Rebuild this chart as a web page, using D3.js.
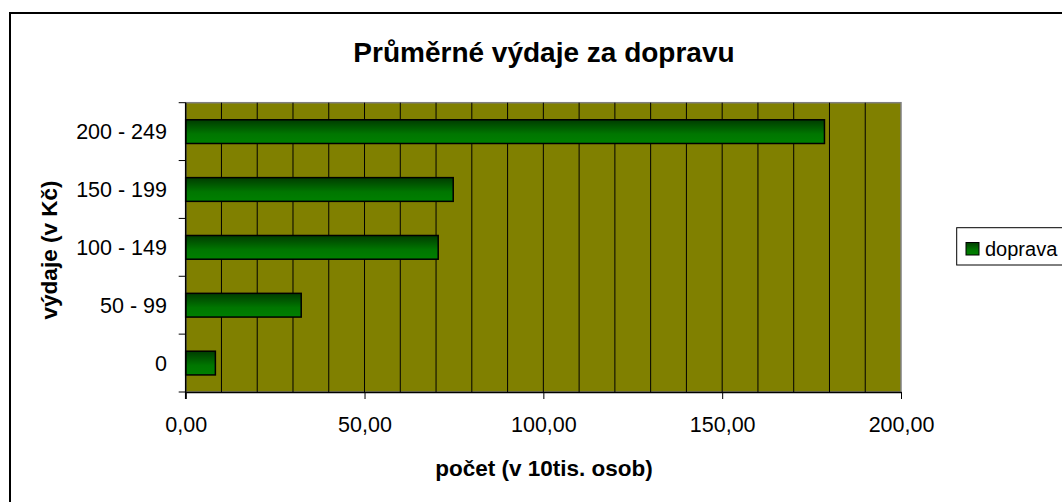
<!DOCTYPE html>
<html>
<head>
<meta charset="utf-8">
<script src="https://cdn.jsdelivr.net/npm/d3@7"></script>
<style>
  body { margin: 0; background: #fff; }
  svg { display: block; font-family: "Liberation Sans", Arial, sans-serif; }
</style>
</head>
<body>
<svg id="chart"></svg>
<script>
// data
var categories = ["0", "50 - 99", "100 - 149", "150 - 199", "200 - 249"];
var values = [8.3, 32.3, 70.6, 74.8, 178.6];
var seriesName = "doprava";
var xTicks = [0, 50, 100, 150, 200];
var gridStep = [0, 10, 20, 30, 40, 50, 60, 70, 80, 90, 100, 110, 120, 130, 140, 150, 160, 170, 180, 190, 200];

var W = 1062, H = 502;
var plot = {left: 185.7, top: 102.7, right: 901, bottom: 392};

var svg = d3.select("#chart").attr("width", W).attr("height", H);

var cz = d3.formatLocale({decimal: ",", thousands: " ", grouping: [3], currency: ["", " Kč"]});
var fmt = cz.format(".2f");

// gradient for the bars
var defs = svg.append("defs");
var grad = defs.append("linearGradient").attr("id", "barGrad")
  .attr("x1", 0).attr("y1", 0).attr("x2", 0).attr("y2", 1);
grad.append("stop").attr("offset", "0%").attr("stop-color", "#003c00");
grad.append("stop").attr("offset", "60%").attr("stop-color", "#007600");
grad.append("stop").attr("offset", "100%").attr("stop-color", "#008000");

// outer chart frame (cut off at right and bottom)
svg.append("rect")
  .attr("x", 10).attr("y", 13)
  .attr("width", W + 20).attr("height", H + 20)
  .attr("fill", "#fff")
  .attr("stroke", "#000").attr("stroke-width", 2);

var x = d3.scaleLinear().domain([0, 200]).range([plot.left, plot.right]);
var y = d3.scaleBand()
  .domain(categories.slice().reverse())
  .range([plot.top, plot.bottom])
  .paddingInner(0.59).paddingOuter(0.295);

// plot area
svg.append("rect")
  .attr("x", plot.left).attr("y", plot.top)
  .attr("width", plot.right - plot.left).attr("height", plot.bottom - plot.top)
  .attr("fill", "#808000")
  .attr("stroke", "#808080").attr("stroke-width", 1.5);

// vertical gridlines
svg.append("g").selectAll("line")
  .data(gridStep.slice(1, -1))
  .join("line")
  .attr("x1", d => x(d)).attr("x2", d => x(d))
  .attr("y1", plot.top).attr("y2", plot.bottom)
  .attr("stroke", "#000").attr("stroke-width", 1);

// bars
svg.append("g").selectAll("rect")
  .data(values)
  .join("rect")
  .attr("x", x(0))
  .attr("y", (d, i) => y(categories[i]))
  .attr("width", d => x(d) - x(0))
  .attr("height", y.bandwidth())
  .attr("fill", "url(#barGrad)")
  .attr("stroke", "#000").attr("stroke-width", 1.5);

// x axis
var xAxis = svg.append("g")
  .attr("transform", "translate(0," + plot.bottom + ")")
  .call(d3.axisBottom(x).tickValues(xTicks).tickSize(7).tickSizeOuter(0).tickFormat(fmt));
xAxis.select(".domain").attr("stroke", "#000").attr("stroke-width", 1.5);
xAxis.selectAll(".tick line").attr("stroke", "#000");
xAxis.selectAll(".tick text")
  .attr("y", 40).attr("dy", null)
  .attr("font-size", 21.5).attr("font-family", "Liberation Sans, Arial")
  .attr("fill", "#000");

// y axis: ticks at band boundaries
var yAxis = svg.append("g");
yAxis.append("line")
  .attr("x1", plot.left).attr("x2", plot.left)
  .attr("y1", plot.top).attr("y2", plot.bottom + 7)
  .attr("stroke", "#000").attr("stroke-width", 1.5);
var step = y.step();
yAxis.selectAll("line.tk")
  .data(d3.range(categories.length + 1))
  .join("line").attr("class", "tk")
  .attr("x1", plot.left - 7).attr("x2", plot.left)
  .attr("y1", i => plot.top + i * step).attr("y2", i => plot.top + i * step)
  .attr("stroke", "#000").attr("stroke-width", 1);
yAxis.selectAll("text")
  .data(categories)
  .join("text")
  .attr("x", 167)
  .attr("y", d => y(d) + y.bandwidth() / 2 + 7.5)
  .attr("text-anchor", "end")
  .attr("font-size", 21.5)
  .attr("fill", "#000")
  .text(d => d);

// title
svg.append("text")
  .attr("x", 544).attr("y", 62)
  .attr("text-anchor", "middle")
  .attr("font-size", 28).attr("font-weight", "bold")
  .text("Průměrné výdaje za dopravu");

// axis titles
svg.append("text")
  .attr("x", 544).attr("y", 476)
  .attr("text-anchor", "middle")
  .attr("font-size", 22.5).attr("font-weight", "bold")
  .text("počet (v 10tis. osob)");

svg.append("text")
  .attr("transform", "translate(57,250) rotate(-90)")
  .attr("text-anchor", "middle")
  .attr("font-size", 22.5).attr("font-weight", "bold")
  .text("výdaje (v Kč)");

// legend
var lg = svg.append("g");
lg.append("rect")
  .attr("x", 956.7).attr("y", 227.7)
  .attr("width", 130).attr("height", 37.3)
  .attr("fill", "#fff").attr("stroke", "#000").attr("stroke-width", 1);
lg.append("rect")
  .attr("x", 966).attr("y", 242.5)
  .attr("width", 13).attr("height", 12.5)
  .attr("fill", "url(#barGrad)").attr("stroke", "#000").attr("stroke-width", 1);
lg.append("text")
  .attr("x", 985).attr("y", 256)
  .attr("font-size", 20)
  .text(seriesName);
</script>
</body>
</html>
